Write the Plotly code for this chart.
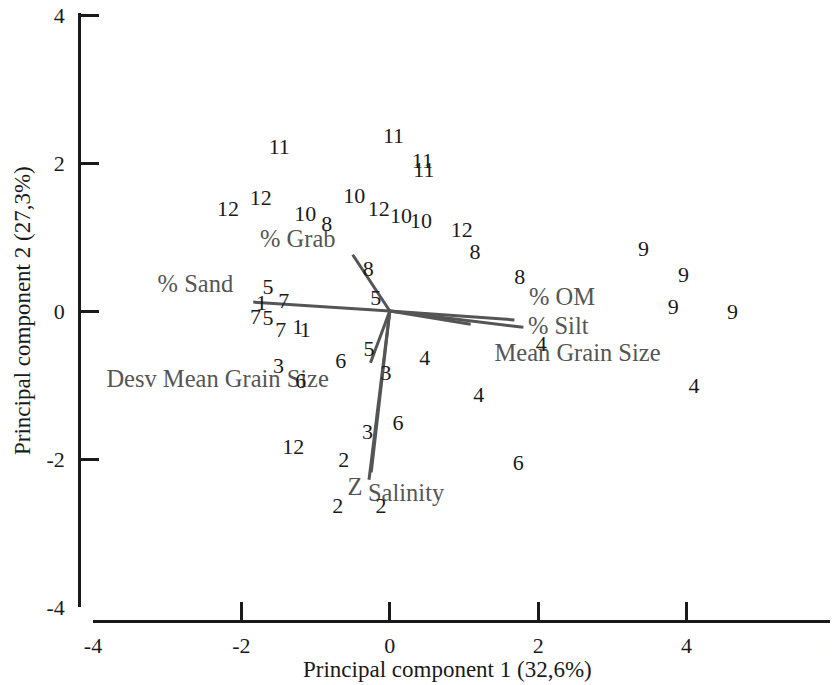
import plotly.graph_objects as go

# Sample scores (site labels) on PC1 / PC2
sample_labels = ["11", "11", "11", "11", "12", "12", "10", "8", "10", "12", "10", "10",
                 "12", "8", "8", "5", "8", "9", "9", "9", "9",
                 "4", "4", "4", "4", "6", "6", "3", "5", "6", "3",
                 "2", "2", "2", "12", "3", "6",
                 "5", "1", "7", "7", "5", "7", "1", "1"]
sample_x = [-1.49, 0.05, 0.44, 0.46, -2.18, -1.74, -1.14, -0.85, -0.48, -0.15, 0.15, 0.42,
            0.97, 1.15, -0.29, -0.19, 1.75, 3.42, 3.96, 3.82, 4.62,
            2.04, 0.47, 1.20, 4.10, 1.73, 0.11, -0.05, -0.28, -0.66, -0.30,
            -0.62, -0.70, -0.12, -1.30, -1.50, -1.20,
            -1.64, -1.73, -1.43, -1.81, -1.64, -1.47, -1.24, -1.14]
sample_y = [2.19, 2.35, 2.00, 1.88, 1.36, 1.51, 1.29, 1.16, 1.54, 1.36, 1.26, 1.19,
            1.08, 0.78, 0.55, 0.16, 0.44, 0.82, 0.47, 0.04, -0.03,
            -0.47, -0.66, -1.16, -1.03, -2.08, -1.54, -0.86, -0.53, -0.70, -1.65,
            -2.04, -2.66, -2.66, -1.86, -0.76, -0.97,
            0.31, 0.09, 0.11, -0.10, -0.12, -0.28, -0.23, -0.28]

# Variable loadings (arrow tips) and label positions
var_names = ["% Grab", "% Sand", "% OM", "% Silt", "Mean Grain Size",
             "Desv Mean Grain Size", "Z", "Salinity"]
var_tip_x = [-0.50, -1.84, 1.68, 1.80, 1.09, -0.26, -0.25, -0.28]
var_tip_y = [0.76, 0.12, -0.12, -0.22, -0.18, -0.70, -2.18, -2.28]
var_lab_x = [-1.24, -2.62, 2.32, 2.27, 2.53, -2.32, -0.47, 0.22]
var_lab_y = [0.95, 0.34, 0.16, -0.23, -0.59, -0.95, -2.41, -2.49]

x_ticks = [-4, -2, 0, 2, 4, 6]
x_tick_text = ["-4", "-2", "0", "2", "4", "6"]
y_ticks = [-4, -2, 0, 2, 4]
y_tick_text = ["-4", "-2", "0", "2", "4"]

SERIF = "Liberation Serif"
fig = go.Figure()

# arrows (lines from origin)
lx, ly = [], []
for tx, ty in zip(var_tip_x, var_tip_y):
    lx += [0, tx, None]
    ly += [0, ty, None]
fig.add_trace(go.Scatter(x=lx, y=ly, mode="lines",
                         line=dict(color="#555555", width=3),
                         hoverinfo="skip", showlegend=False))

fig.add_trace(go.Scatter(x=var_lab_x, y=var_lab_y, text=var_names, mode="text",
                         textposition="middle center",
                         textfont=dict(family=SERIF, size=24.5, color="#555555"),
                         showlegend=False))

fig.add_trace(go.Scatter(x=sample_x, y=sample_y, text=sample_labels, mode="text",
                         textposition="middle center",
                         textfont=dict(family=SERIF, size=22, color="#1a1a1a"),
                         showlegend=False))

# page body has an 8px margin -> figure is 16px smaller and coordinates shift by 8
W, H = 830, 677
ml, mr, mt, mb = 52, 0, 4, 55
pw, ph = W - ml - mr, H - mt - mb
OFF = 8


def px_x(p):
    return (p - OFF - ml) / pw


def px_y(p):
    return (H - mb - (p - OFF)) / ph


axis_common = dict(ticks="inside", ticklen=18, tickwidth=2.5, tickcolor="#1a1a1a",
                   showline=True, linecolor="#1a1a1a", linewidth=2.5,
                   showgrid=False, zeroline=False, automargin=False,
                   ticklabeloverflow="allow", anchor="free",
                   tickfont=dict(family=SERIF, size=22, color="#1a1a1a"))

fig.update_layout(
    width=W, height=H,
    margin=dict(l=ml, r=mr, t=mt, b=mb, autoexpand=False),
    paper_bgcolor="white", plot_bgcolor="white",
    font=dict(family=SERIF, color="#1a1a1a"),
    xaxis=dict(range=[-4.005, 6.03], domain=[px_x(92.63), px_x(837.2)],
               position=px_y(621),
               tickvals=x_ticks, ticktext=x_tick_text, ticklabelstandoff=4,
               **axis_common),
    yaxis=dict(range=[-4.005, 4.03], domain=[px_y(607.37), px_y(12.78)],
               position=px_x(79),
               tickvals=y_ticks, ticktext=y_tick_text, ticklabelstandoff=9,
               **axis_common),
    annotations=[
        dict(text="Principal component 1 (32,6%)", xref="paper", yref="paper",
             x=px_x(447), y=px_y(669), xanchor="center", yanchor="middle",
             showarrow=False, font=dict(family=SERIF, size=23, color="#1a1a1a")),
        dict(text="Principal component 2 (27,3%)", xref="paper", yref="paper",
             x=px_x(22), y=px_y(311), xanchor="center", yanchor="middle",
             textangle=-90, showarrow=False,
             font=dict(family=SERIF, size=23, color="#1a1a1a")),
    ],
)

fig.write_html(
    "out.html",
    post_script="document.documentElement.style.overflow='hidden';"
                "document.body.style.overflow='hidden';",
)
